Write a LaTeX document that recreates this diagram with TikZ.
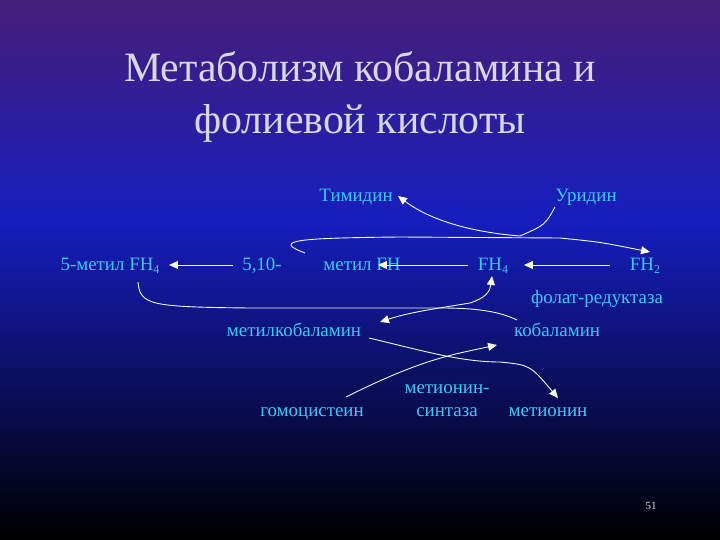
\documentclass[tikz,border=0pt]{standalone}
\usepackage{fontspec}
\setmainfont{Liberation Serif}
\usetikzlibrary{arrows.meta}
\definecolor{lbl}{RGB}{60,200,250}
\definecolor{ttl}{RGB}{215,215,225}
\definecolor{bgtop}{RGB}{70,30,120}
\definecolor{bgmid}{RGB}{22,30,190}
\definecolor{bgbot}{RGB}{0,0,0}
\newcommand{\sbs}[1]{\raisebox{-0.25ex}{\fontsize{12}{12}\selectfont #1}}
\begin{document}
\begin{tikzpicture}[x=1bp,y=-1bp,
  lab/.style={text=lbl,font=\fontsize{19}{22}\selectfont,inner sep=1pt,anchor=base},
  con/.style={draw=white!90!lbl,line width=0.9pt},
  arr/.style={con,-{Triangle[length=9pt,width=8pt,fill=white!80!yellow]}}]
\useasboundingbox (0,0) rectangle (720,540);
\shade[top color=bgtop,bottom color=bgmid] (0,0) rectangle (720,220);
\shade[top color=bgmid,bottom color=bgbot] (0,219.5) rectangle (720,540);
\node[text=ttl,font=\fontsize{42}{53}\selectfont,align=center] (title) at (360,97) {Метаболизм кобаламина и\\фолиевой кислоты};
\node[lab] (tim) at (356,202) {Тимидин};
\node[lab] (uri) at (586,202) {Уридин};
\node[lab] (m5) at (110,271) {5-метил FH\sbs{4}};
\node[lab] (f510) at (262,271) {5,10-};
\node[lab] (mfh) at (362,271) {метил FH};
\node[lab] (fh4) at (493,271) {FH\sbs{4}};
\node[lab] (fh2) at (645,271) {FH\sbs{2}};
\node[lab] (fr) at (597,303) {фолат-редуктаза};
\node[lab] (mcb) at (294,336) {метилкобаламин};
\node[lab] (cb) at (557,336) {кобаламин};
\node[lab] (ms1) at (447,393) {метионин-};
\node[lab] (ms2) at (447,416) {синтаза};
\node[lab] (hc) at (312,416) {гомоцистеин};
\node[lab] (met) at (548,416) {метионин};
\node[text=ttl,font=\fontsize{11}{12}\selectfont] (pg) at (651,506) {51};
\coordinate (j) at (520,236);
\draw[arr] (610,265) -- (524,265);
\draw[arr] (468,265) -- (378,265);
\draw[arr] (233,265) -- (169,265);
\draw[arr] (305,253) .. controls (270,240) and (300,238) .. (400,237) -- (560,238) .. controls (600,242) .. (650,252);
\draw[con] (555,207) .. controls (545,225) .. (j);
\draw[arr] (j) .. controls (470,232) and (430,220) .. (398,196);
\draw[con] (138,282) .. controls (140,305) and (150,307) .. (250,308) -- (440,308) .. controls (480,308) and (500,312) .. (517,320);
\draw[arr] (470,303) .. controls (485,298) and (490,292) .. (492,276);
\draw[arr] (470,303) .. controls (440,308) and (410,312) .. (380,322);
\draw[arr] (369,338) .. controls (420,350) and (460,362) .. (500,362) .. controls (530,365) .. (558,398);
\draw[arr] (346,397) .. controls (420,360) and (450,355) .. (497,345);
\end{tikzpicture}
\end{document}
